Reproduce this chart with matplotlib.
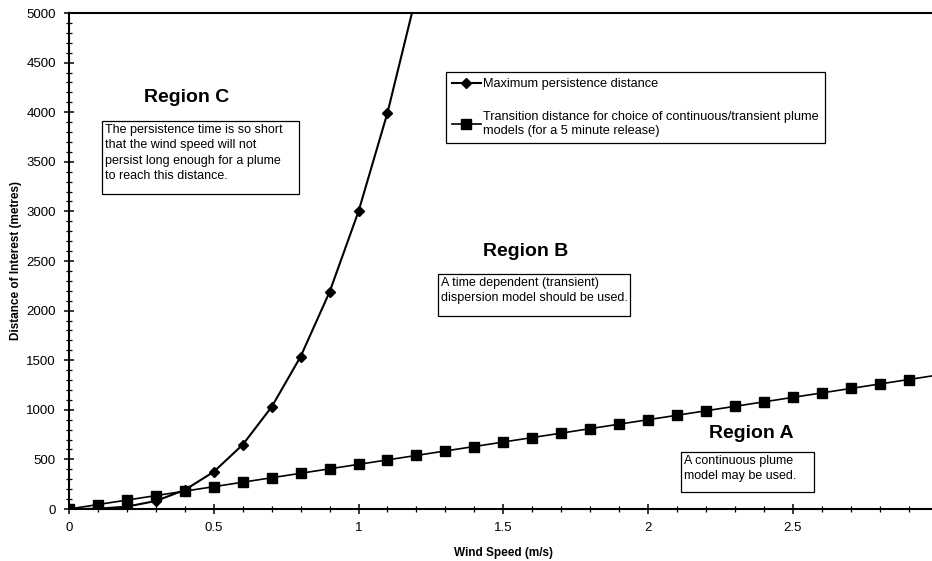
import numpy as np
import matplotlib.pyplot as plt
from matplotlib.patches import Rectangle
from matplotlib.ticker import MultipleLocator

plt.rcParams['font.family'] = ['Liberation Sans', 'DejaVu Sans']

# wind speed (m/s) and distances (m)
speed_persist = [0.0, 0.1, 0.2, 0.3, 0.4, 0.5, 0.6, 0.7, 0.8, 0.9, 1.0, 1.1, 1.2]
max_persist = [0, 3, 24, 81, 192, 375, 648, 1029, 1536, 2187, 3000, 3993, 5184]

speed_trans = [0.0, 0.1, 0.2, 0.3, 0.4, 0.5, 0.6, 0.7, 0.8, 0.9, 1.0,
               1.1, 1.2, 1.3, 1.4, 1.5, 1.6, 1.7, 1.8, 1.9, 2.0,
               2.1, 2.2, 2.3, 2.4, 2.5, 2.6, 2.7, 2.8, 2.9, 3.0]
transition = [0, 45, 90, 135, 180, 225, 270, 315, 360, 405, 450,
              495, 540, 585, 630, 675, 720, 765, 810, 855, 900,
              945, 990, 1035, 1080, 1125, 1170, 1215, 1260, 1305, 1350]

x_ticks = [0, 0.5, 1, 1.5, 2, 2.5]
x_labels = ['0', '0.5', '1', '1.5', '2', '2.5']

W, H = 932, 561
fig = plt.figure(figsize=(W / 100, H / 100), dpi=100)


def px(x, y):
    # pixel position (from top-left) to figure fraction
    return x / W, 1 - y / H


ax = fig.add_axes([69 / W, (H - 509) / H, 868.5 / W, (509 - 13) / H])

l1, = ax.plot(speed_persist, max_persist, color='black', lw=1.5,
              marker='D', markersize=5, label='Maximum persistence distance')
l2, = ax.plot(speed_trans, transition, color='black', lw=1.2,
              marker='s', markersize=6.5,
              label='Transition distance for choice of continuous/transient plume\n'
                    'models (for a 5 minute release)')

ax.set_xlim(0, 3)
ax.set_ylim(0, 5000)
ax.set_xticks(x_ticks)
ax.set_xticklabels(x_labels)
ax.xaxis.set_minor_locator(MultipleLocator(0.1))
ax.yaxis.set_major_locator(MultipleLocator(500))
ax.yaxis.set_minor_locator(MultipleLocator(100))
ax.tick_params(axis='both', which='major', direction='inout', length=7,
               width=1.1, labelsize=9.5, pad=6)
ax.tick_params(axis='both', which='minor', direction='inout', length=4, width=0.9)

for side in ['left', 'bottom', 'top']:
    ax.spines[side].set_linewidth(1.5)
ax.spines['right'].set_visible(False)

ax.set_xlabel('Wind Speed (m/s)', fontsize=8.5, fontweight='bold', labelpad=9)
ax.set_ylabel('Distance of Interest (metres)', fontsize=8.5, fontweight='bold',
              labelpad=3)

leg = ax.legend(handles=[l1, l2], loc='upper left',
                bbox_to_anchor=px(446, 72), bbox_transform=fig.transFigure,
                borderaxespad=0, frameon=True, fancybox=False, framealpha=1,
                edgecolor='black', fontsize=9.2, labelspacing=1.6,
                handlelength=2.2, handletextpad=0.2, borderpad=0.5)
leg.get_frame().set_linewidth(0.9)


def note(title, tx, ty, text, box):
    x0, y0, x1, y1 = box
    fig.text(*px(tx, ty), title, fontsize=14, fontweight='bold',
             ha='center', va='center')
    fig.patches.append(Rectangle(px(x0, y1), (x1 - x0) / W, (y1 - y0) / H,
                                 transform=fig.transFigure, fill=False,
                                 edgecolor='black', lw=0.9))
    fig.text(*px(x0 + 3, y0 + 3), text, fontsize=9, ha='left', va='top',
             linespacing=1.38)


note('Region C', 187, 98,
     'The persistence time is so short\nthat the wind speed will not\n'
     'persist long enough for a plume\nto reach this distance.',
     (102, 121, 299, 194))
note('Region B', 526, 252,
     'A time dependent (transient)\ndispersion model should be used.',
     (438, 274, 630, 316))
note('Region A', 751, 434,
     'A continuous plume\nmodel may be used.',
     (681, 452, 814, 492))

fig.savefig('out.png', dpi=100)
